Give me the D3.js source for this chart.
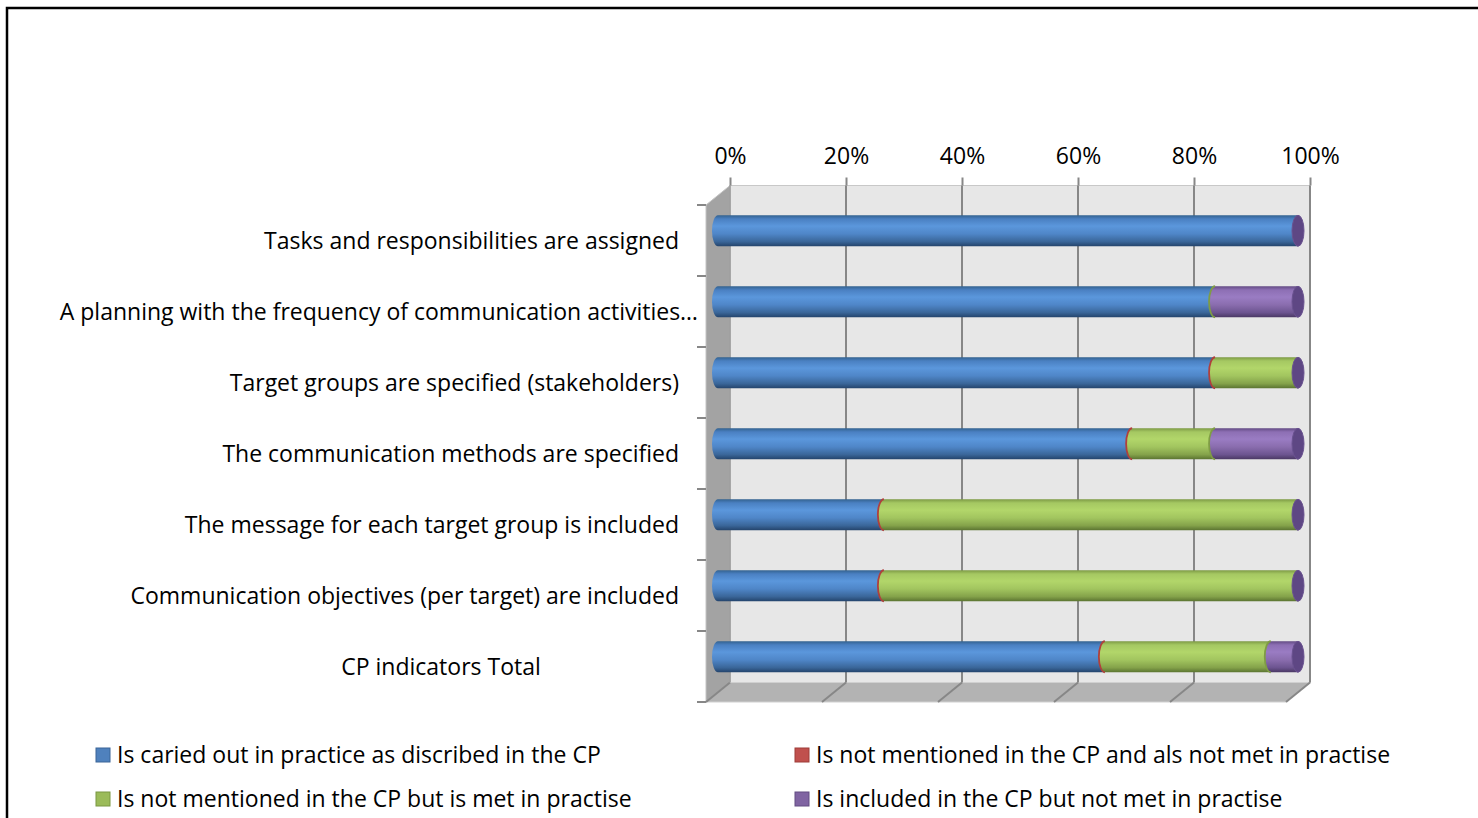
<!DOCTYPE html>
<html>
<head>
<meta charset="utf-8">
<script src="https://cdn.jsdelivr.net/npm/d3@7/dist/d3.min.js"></script>
<style>
  html, body { margin: 0; padding: 0; background: #fff; }
  svg { display: block; }
  text { font-family: "Open Sans", sans-serif; fill: #000; }
</style>
</head>
<body>
<svg id="chart" width="1478" height="818"></svg>
<script>
// Communication plan indicators: share of plans per outcome (percent)
const categories = [
  "Tasks and responsibilities are assigned",
  "A planning with the frequency of communication activities…",
  "Target groups are specified (stakeholders)",
  "The communication methods are specified",
  "The message for each target group is included",
  "Communication objectives (per target) are included",
  "CP indicators Total"
];
const seriesNames = [
  "Is caried out in practice as discribed in the CP",
  "Is not mentioned in the CP and als not met in practise",
  "Is not mentioned in the CP but is met in practise",
  "Is included in the CP but not met in practise"
];
const carriedOut   = [100, 85.7, 85.7, 71.4, 28.6, 28.6, 66.7];
const notMentioned = [0, 0, 0, 0, 0, 0, 0];
const metNotInCP   = [0, 0, 14.3, 14.3, 71.4, 71.4, 28.6];
const notMet       = [0, 14.3, 0, 14.3, 0, 0, 4.7];
const tickValues = [0, 20, 40, 60, 80, 100];
const tickLabels = ["0%", "20%", "40%", "60%", "80%", "100%"];

const series = [carriedOut, notMentioned, metNotInCP, notMet];

// shading per series for the cylinder bodies, plus edge and end-face colours
const palette = [
  { stops: ["#33628f", "#4a80c2", "#5b97dc", "#4f86c8", "#3a6699", "#24446c"], edge: "#2f5a8a", cap: "#3c6aa3" },
  { stops: ["#983f3c", "#c0504d", "#d4635f", "#c0504d", "#a0403d", "#7a2e2c"], edge: "#b0403c", cap: "#a9443f" },
  { stops: ["#7d9a45", "#a5c862", "#b2d66a", "#a2c55f", "#84a24a", "#5b7431"], edge: "#7f9c45", cap: "#8eaa50" },
  { stops: ["#634b84", "#8d6fb4", "#9a7cc3", "#8a6dae", "#6c5490", "#4a3864"], edge: "#6a5290", cap: "#5e4784" }
];
const legendColors = ["#4f81bd", "#c0504d", "#9bbb59", "#8064a2"];
const legendBorders = ["#3a6597", "#9e3c39", "#7a9743", "#634c82"];

const FONT = 23;
const svg = d3.select("#chart");
const defs = svg.append("defs");
palette.forEach((p, i) => {
  const g = defs.append("linearGradient").attr("id", "grad" + i)
    .attr("x1", 0).attr("y1", 0).attr("x2", 0).attr("y2", 1);
  const offs = [0, 0.12, 0.35, 0.6, 0.85, 1];
  p.stops.forEach((c, k) => g.append("stop").attr("offset", offs[k]).attr("stop-color", c));
});

// outer frame
svg.append("rect").attr("x", 7).attr("y", 8).attr("width", 1490).attr("height", 830)
  .attr("fill", "none").attr("stroke", "#000").attr("stroke-width", 2.5);

// 3D box geometry
const x = d3.scaleLinear().domain([0, 100]).range([730, 1310]);
const y = d3.scaleBand().domain(categories).range([205, 702]);
const depthX = -24, depthY = 19.5;
const wallTop = y.range()[0] - depthY;      // back wall top
const wallBottom = y.range()[1] - depthY;   // back wall bottom

// back wall
svg.append("rect").attr("x", x(0)).attr("y", wallTop)
  .attr("width", x(100) - x(0)).attr("height", wallBottom - wallTop)
  .attr("fill", "#e7e7e7").attr("stroke", "#c8c8c8").attr("stroke-width", 1);

// left wall
svg.append("path")
  .attr("d", `M${x(0) + depthX},${y.range()[0]} L${x(0)},${wallTop} L${x(0)},${wallBottom} L${x(0) + depthX},${y.range()[1]} Z`)
  .attr("fill", "#a3a3a3").attr("stroke", "#c4c4c4").attr("stroke-width", 1);

// floor
svg.append("path")
  .attr("d", `M${x(0) + depthX},${y.range()[1]} L${x(0)},${wallBottom} L${x(100)},${wallBottom} L${x(100) + depthX},${y.range()[1]} Z`)
  .attr("fill", "#b3b3b3").attr("stroke", "#d0d0d0").attr("stroke-width", 1);

// gridlines: back wall verticals and floor diagonals
const grid = svg.append("g").attr("stroke", "#878787").attr("stroke-width", 2).attr("fill", "none");
tickValues.forEach(v => {
  if (v > 0) {
    grid.append("line").attr("x1", x(v)).attr("x2", x(v)).attr("y1", wallTop).attr("y2", wallBottom);
  }
  grid.append("line").attr("x1", x(v)).attr("y1", wallBottom)
    .attr("x2", x(v) + depthX).attr("y2", y.range()[1]);
});
grid.append("line").attr("x1", x(0)).attr("x2", x(0)).attr("y1", wallTop).attr("y2", wallBottom)
  .attr("stroke", "#9a9a9a").attr("stroke-width", 1.5);

// top value axis
const xAxis = d3.axisTop(x).tickValues(tickValues)
  .tickFormat((d, i) => tickLabels[i]).tickSize(8).tickPadding(14);
const gx = svg.append("g").attr("transform", `translate(0,${wallTop})`).call(xAxis);
gx.select(".domain").remove();
gx.selectAll(".tick line").attr("stroke", "#878787").attr("stroke-width", 2);
gx.selectAll(".tick text").attr("font-size", FONT).style("font-family", "'Open Sans', sans-serif");

// left category ticks on the front edge
const leftTicks = svg.append("g").attr("stroke", "#878787").attr("stroke-width", 2);
const bounds = categories.map(c => y(c)).concat([y.range()[1]]);
bounds.forEach(b => {
  leftTicks.append("line").attr("x1", x(0) + depthX - 9).attr("x2", x(0) + depthX)
    .attr("y1", b).attr("y2", b);
});

// category labels
svg.append("g").selectAll("text").data(categories).join("text")
  .attr("x", (d, i) => i === categories.length - 1 ? 441 : (d.endsWith("…") ? 698 : 679))
  .attr("y", d => y(d) + y.bandwidth() / 2)
  .attr("dy", "0.35em")
  .attr("text-anchor", (d, i) => i === categories.length - 1 ? "middle" : "end")
  .attr("font-size", FONT)
  .text(d => d);

// cylinders, drawn at mid-depth
const bx = v => x(v) + depthX / 2;
const ry = 15.5, rx = 6;
const bars = svg.append("g");
categories.forEach((cat, i) => {
  const cy = y(cat) + y.bandwidth() / 2 - depthY / 2;
  const row = bars.append("g");
  let acc = 0;
  let prevIdx = -1;
  let zeroSince = -1;
  series.forEach((vals, s) => {
    const v = vals[i];
    const x0 = bx(acc);
    const x1 = bx(Math.min(100, acc + v));
    if (v <= 0) { zeroSince = s; return; }
    // body with rounded left end
    row.append("path")
      .attr("d", `M${x1},${cy - ry} L${x0},${cy - ry} A${rx},${ry} 0 0 0 ${x0},${cy + ry} L${x1},${cy + ry} Z`)
      .attr("fill", `url(#grad${s})`);
    if (prevIdx >= 0) {
      const edgeColor = zeroSince > prevIdx ? palette[zeroSince].edge : palette[prevIdx].edge;
      row.append("path")
        .attr("d", `M${x0},${cy - ry} A${rx},${ry} 0 0 0 ${x0},${cy + ry}`)
        .attr("fill", "none").attr("stroke", edgeColor).attr("stroke-width", 1.8);
    }
    prevIdx = s;
    acc += v;
  });
  // end face carries the colour of the last series
  const last = series.length - 1;
  row.append("ellipse").attr("cx", bx(100)).attr("cy", cy).attr("rx", rx).attr("ry", ry)
    .attr("fill", palette[last].cap).attr("stroke", palette[last].edge).attr("stroke-width", 1);
});

// legend
const legendPos = [[96, 755], [795, 755], [96, 799], [795, 799]];
const legend = svg.append("g");
seriesNames.forEach((name, i) => {
  const [lx, ly] = legendPos[i];
  legend.append("rect").attr("x", lx).attr("y", ly - 7).attr("width", 14).attr("height", 14)
    .attr("fill", legendColors[i]).attr("stroke", legendBorders[i]).attr("stroke-width", 1);
  legend.append("text").attr("x", lx + 21).attr("y", ly).attr("dy", "0.35em")
    .attr("font-size", FONT).text(name);
});
</script>
</body>
</html>
